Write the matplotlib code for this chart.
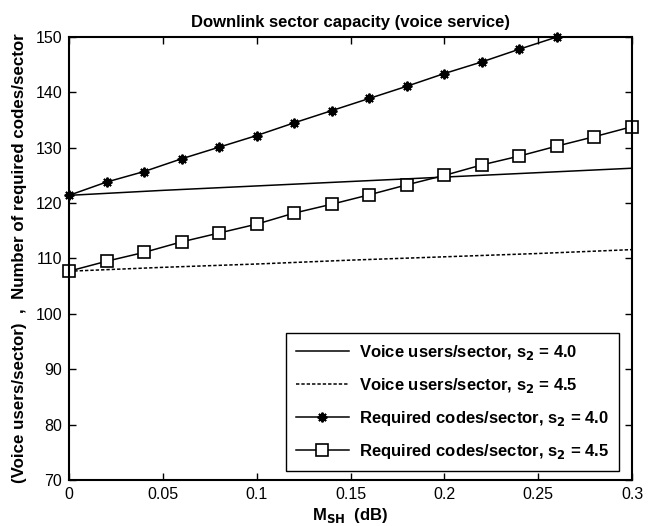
import matplotlib
matplotlib.use('Agg')
import matplotlib.pyplot as plt

plt.rcParams['font.family'] = ['Liberation Sans', 'DejaVu Sans']
plt.rcParams['mathtext.default'] = 'bf'

# required codes/sector, sampled every 0.02 dB
x_codes40 = [0, 0.02, 0.04, 0.06, 0.08, 0.10, 0.12, 0.14, 0.16, 0.18, 0.20, 0.22, 0.24, 0.26]
codes40 = [121.4, 123.8, 125.7, 128.0, 130.1, 132.2, 134.5, 136.7, 138.9, 141.1, 143.4, 145.5, 147.8, 150.0]
x_codes45 = [0, 0.02, 0.04, 0.06, 0.08, 0.10, 0.12, 0.14, 0.16, 0.18, 0.20, 0.22, 0.24, 0.26, 0.28, 0.30]
codes45 = [107.7, 109.5, 111.1, 113.0, 114.6, 116.2, 118.2, 119.8, 121.5, 123.3, 125.0, 126.9, 128.5, 130.3, 132.0, 133.8]

# voice users/sector
x_voice = [0, 0.05, 0.10, 0.15, 0.20, 0.25, 0.30]
voice40 = [121.4, 122.3, 123.1, 123.9, 124.7, 125.5, 126.3]
voice45 = [107.7, 108.4, 109.0, 109.7, 110.3, 110.9, 111.6]

fig = plt.figure(figsize=(6.57, 5.26), dpi=100)
ax = fig.add_axes([0.105, 0.0875, 0.857, 0.8422])

ax.plot(x_voice, voice40, 'k-', lw=1.1, label='Voice users/sector, s$_{2}$ = 4.0')
ax.plot(x_voice, voice45, 'k--', lw=1.1, dashes=(2.2, 1.3), label='Voice users/sector, s$_{2}$ = 4.5')
ax.plot(x_codes40, codes40, 'k-', lw=1.1, marker=(8, 2, 0), markersize=7, markeredgewidth=1.4,
        label='Required codes/sector, s$_{2}$ = 4.0', clip_on=False)
ax.plot(x_codes45, codes45, 'k-', lw=1.1, marker='s', markersize=9, markerfacecolor='white',
        markeredgewidth=1.2, label='Required codes/sector, s$_{2}$ = 4.5', clip_on=False)

ax.set_xlim(0, 0.3)
ax.set_ylim(70, 150)
ax.set_xticks([0, 0.05, 0.1, 0.15, 0.2, 0.25, 0.3])
ax.set_xticklabels(['0', '0.05', '0.1', '0.15', '0.2', '0.25', '0.3'])
ax.set_yticks(range(70, 151, 10))
ax.tick_params(direction='in', top=True, right=True, length=5, width=1, labelsize=11.5, pad=5)
for s in ax.spines.values():
    s.set_linewidth(1.5)

ax.set_title('Downlink sector capacity (voice service)', fontsize=12, fontweight='bold', pad=7)
ax.set_xlabel('M$_{SH}$  (dB)', fontsize=12, fontweight='bold', labelpad=3)
ax.set_ylabel('(Voice users/sector)  ,  Number of required codes/sector', fontsize=12.2,
              fontweight='bold', labelpad=6)

leg = ax.legend(loc='lower right', fancybox=False, edgecolor='black', framealpha=1,
                prop={'weight': 'bold', 'size': 12}, borderpad=0.6, labelspacing=0.85,
                handlelength=3.2, handletextpad=0.6, borderaxespad=0,
                bbox_to_anchor=(0.977, 0.02))
leg.get_frame().set_linewidth(1.0)

fig.savefig('out.png', dpi=100)
